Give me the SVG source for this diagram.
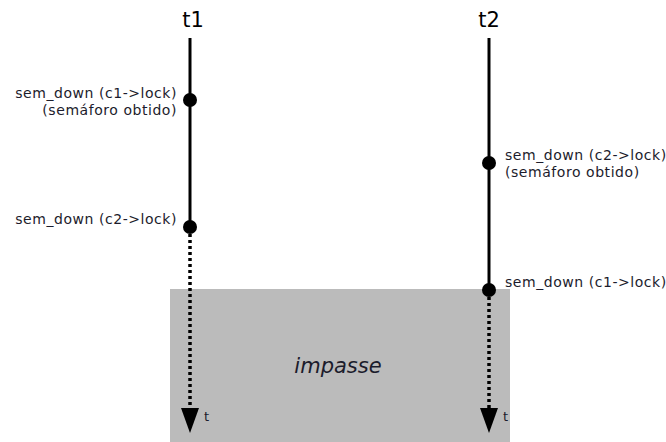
<svg xmlns="http://www.w3.org/2000/svg" width="666" height="442" viewBox="0 0 666 442">
  <style>
    .lbl { font-family: "DejaVu Sans", sans-serif; font-size: 14px; letter-spacing: 0.55px; fill: #1c1c2c; }
    .tl { font-family: "DejaVu Sans", sans-serif; font-size: 13px; fill: #1c1c2c; }
    .head { font-family: "DejaVu Sans", sans-serif; font-size: 21px; fill: #000; }
    .solid { stroke: #000; stroke-width: 3; fill: none; }
    .dots { stroke: #000; stroke-width: 3.5; stroke-dasharray: 3 3; fill: none; }
    .ev { fill: #000; }
    .tip { fill: #000; }
  </style>

  <!-- deadlock region -->
  <rect id="impasse" x="170" y="289" width="340" height="153" fill="#bbbbbb"/>
  <text x="338" y="373" text-anchor="middle" font-family="DejaVu Sans, sans-serif" font-size="21" font-style="italic" fill="#1c1c2c">impasse</text>

  <!-- thread timelines -->
  <g id="connectors">
    <line class="solid" x1="190" y1="38" x2="190" y2="227"/>
    <line class="dots" x1="190" y1="234" x2="190" y2="410"/>
    <polygon class="tip" points="181,408 199,408 190,433"/>
    <line class="solid" x1="489" y1="38" x2="489" y2="290"/>
    <line class="dots" x1="489" y1="297" x2="489" y2="410"/>
    <polygon class="tip" points="480,408 498,408 489,433"/>
  </g>

  <g id="t1">
    <text class="head" x="193" y="27" text-anchor="middle" font-family="DejaVu Sans Mono, monospace">t1</text>
    <text class="tl" x="204" y="421">t</text>
  </g>
  <g id="t2">
    <text class="head" x="489" y="27" text-anchor="middle">t2</text>
    <text class="tl" x="503" y="421">t</text>
  </g>

  <g id="t1-c1">
    <circle class="ev" cx="190" cy="100" r="7"/>
    <text class="lbl" x="177" y="98" text-anchor="end">sem_down (c1-&gt;lock)</text>
    <text class="lbl" x="177" y="115" text-anchor="end">(semáforo obtido)</text>
  </g>
  <g id="t1-c2">
    <circle class="ev" cx="190" cy="227" r="7"/>
    <text class="lbl" x="177" y="224" text-anchor="end">sem_down (c2-&gt;lock)</text>
  </g>
  <g id="t2-c2">
    <circle class="ev" cx="489" cy="163" r="7"/>
    <text class="lbl" x="505" y="160">sem_down (c2-&gt;lock)</text>
    <text class="lbl" x="505" y="177">(semáforo obtido)</text>
  </g>
  <g id="t2-c1">
    <circle class="ev" cx="489" cy="290" r="7"/>
    <text class="lbl" x="505" y="287">sem_down (c1-&gt;lock)</text>
  </g>
</svg>
